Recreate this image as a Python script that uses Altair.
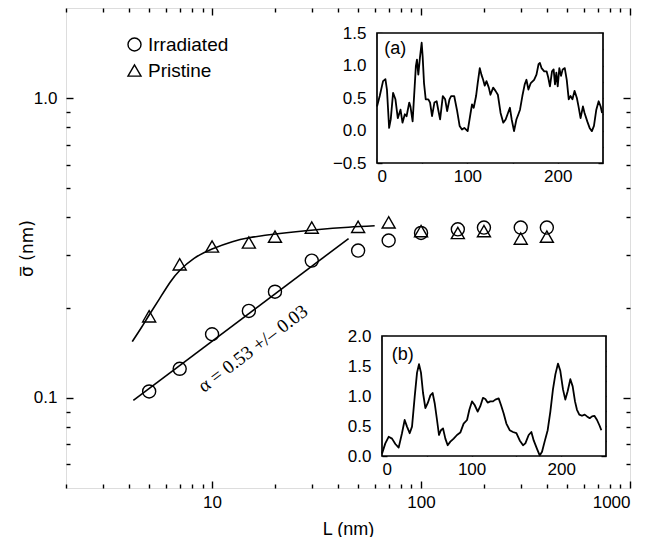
import altair as alt
import pandas as pd

# ---------------- data ----------------
L_nm = [5, 7, 10, 15, 20, 30, 50, 70, 100, 150, 200, 300, 400]
sigma_irradiated = [0.105, 0.125, 0.163, 0.195, 0.226, 0.287, 0.31, 0.335, 0.355, 0.365, 0.37, 0.37, 0.37]
sigma_pristine = [0.187, 0.279, 0.32, 0.33, 0.345, 0.37, 0.372, 0.385, 0.36, 0.355, 0.36, 0.34, 0.345]
series_names = ["Irradiated", "Pristine"]

fit_irr_L = [4.2, 45]
fit_irr_sigma = [0.098, 0.34]
fit_pri_L = [4.15, 4.6, 5, 5.6, 6.3, 7, 8.2, 10, 12.5, 15, 20.6, 31.5, 45, 60]
fit_pri_sigma = [0.154, 0.172, 0.189, 0.214, 0.243, 0.266, 0.292, 0.314, 0.332, 0.342, 0.353, 0.364, 0.371, 0.375]

alpha_label = "\u03b1 = 0.53 +/\u2013 0.03"
alpha_pos = (15.7, 0.146)

profile_a_x = [0, 3, 6.7, 9.3, 11, 13.4, 15.2, 17.8, 20.4, 23, 26, 28.2, 30.8, 32.7, 35.7, 37, 39.4, 43, 44.2,
               45.7, 47.5, 49.4, 50.5, 52, 53.9, 56.8, 58.7, 60.9, 63.5, 66, 68, 69.8, 72.8, 75.4, 77.6, 80.2,
               82, 85.4, 88.4, 91.4, 94, 96.6, 100.3, 103.3, 105.1, 107, 109.6, 111.4, 113.7, 115.5, 117.4,
               119.2, 121.1, 123.7, 125.5, 128.5, 131.1, 133.7, 136.7, 139.7, 142.3, 144.9, 147, 149, 151.6,
               154.2, 156.4, 158.2, 160.8, 163.4, 165.3, 167.5, 170.1, 173.8, 176.4, 178.7, 180.2, 182, 185,
               187.6, 189.5, 191.3, 193.6, 195.4, 196.9, 198.4, 199.9, 201.7, 203.6, 205.4, 207.7, 209.9,
               212.1, 214, 216.2, 218.5, 221.1, 222.9, 225.2, 227.8, 229.6, 232.6, 235.2, 237.7, 240, 242.6,
               245.2, 247.4, 249]
profile_a_h = [0.37, 0.53, 0.76, 0.79, 0.63, 0.04, 0.17, 0.58, 0.48, 0.19, 0.32, 0.12, 0.25, 0.22, 0.43, 0.37,
               0.14, 0.99, 1.09, 0.86, 1.12, 1.35, 1.14, 0.73, 0.48, 0.48, 0.43, 0.22, 0.43, 0.45, 0.30, 0.17,
               0.53, 0.48, 0.30, 0.48, 0.53, 0.53, 0.32, 0.07, 0.015, 0.04, -0.01, 0.25, 0.40, 0.35, 0.53, 0.73,
               0.96, 0.86, 0.78, 0.69, 0.76, 0.66, 0.55, 0.66, 0.61, 0.55, 0.27, 0.12, 0.17, 0.27, 0.35, 0.17,
               -0.01, 0.17, 0.25, 0.32, 0.53, 0.71, 0.78, 0.63, 0.73, 0.78, 0.86, 1.02, 1.04, 0.96, 0.91, 0.91,
               0.81, 0.68, 0.91, 0.94, 0.71, 0.89, 0.68, 0.96, 0.84, 0.94, 0.96, 0.78, 0.48, 0.53, 0.48, 0.61,
               0.50, 0.37, 0.19, 0.37, 0.27, 0.14, 0.04, -0.01, 0.07, 0.32, 0.45, 0.37, 0.27]

profile_b_x = [0, 3.7, 7.4, 11.2, 14.9, 18.6, 22.3, 25.3, 27.9, 30.9, 33.5, 36.5, 39.1, 41.3, 43.5, 45.8, 48.4,
               51, 54, 56.5, 58.8, 61.4, 63.6, 65.8, 68.1, 70.7, 73.3, 76.3, 80, 83.7, 87.4, 91.1, 94.9, 97.5,
               100.4, 103.4, 106.8, 109.7, 112.7, 115.3, 117.9, 120.9, 123.9, 126.5, 130.2, 132.8, 135.8,
               138.8, 142.5, 146.2, 150, 153.7, 157.4, 160, 163.7, 166.7, 169.3, 173, 176, 178.6, 181.5,
               184.9, 187.9, 190.8, 193.5, 196.4, 199, 202, 204.6, 207.2, 210.2, 212.8, 215.4, 217.6, 220.2,
               223.2, 226.2, 228.8, 231.8, 234.4, 237, 240, 243, 244.8]
profile_b_h = [0.04, 0.21, 0.32, 0.29, 0.20, 0.14, 0.38, 0.60, 0.49, 0.38, 0.49, 0.99, 1.39, 1.53, 1.39, 1.05,
               0.80, 0.88, 1.01, 1.05, 0.88, 0.60, 0.35, 0.43, 0.46, 0.29, 0.18, 0.24, 0.29, 0.35, 0.39, 0.54,
               0.60, 0.77, 0.91, 0.85, 0.74, 0.83, 0.97, 0.95, 0.89, 0.91, 0.91, 0.94, 0.96, 0.85, 0.71, 0.54,
               0.43, 0.40, 0.38, 0.26, 0.18, 0.21, 0.35, 0.40, 0.26, 0.12, 0.01, 0.07, 0.24, 0.43, 0.74, 1.11,
               1.36, 1.54, 1.42, 1.11, 0.94, 1.08, 1.28, 1.16, 0.91, 0.77, 0.69, 0.67, 0.69, 0.66, 0.63, 0.66,
               0.67, 0.60, 0.50, 0.43]

# axis / domain settings
x_domain = [2, 1000]
y_domain = [0.05, 2.0]
x_major = [10, 100, 1000]
x_minor = [2, 3, 4, 5, 6, 7, 8, 9, 20, 30, 40, 50, 60, 70, 80, 90, 200, 300, 400, 500, 600, 700, 800, 900]
y_major = [0.1, 1.0]
y_minor = [0.06, 0.07, 0.08, 0.09, 0.2, 0.3, 0.4, 0.5, 0.6, 0.7, 0.8, 0.9]

inset_x_domain = [0, 250]
inset_x_ticks = [0, 50, 100, 150, 200]
inset_a_y_domain = [-0.5, 1.5]
inset_a_y_ticks = [-0.5, -0.25, 0, 0.25, 0.5, 0.75, 1.0, 1.25, 1.5]
inset_b_y_domain = [0, 2.0]
inset_b_y_ticks = [0, 0.25, 0.5, 0.75, 1.0, 1.25, 1.5, 1.75, 2.0]

# ---------------- layout (pixels) ----------------
W, H = 564, 480
A_X = [311, 537]
A_Y = [155, 25]
B_X = [316, 540]
B_Y = [448, 328]
MAJ, MIN, INS = 7, 4, 5
FONT = "Liberation Sans"
LBL = 17


def axis(orient, offset, size, values, labels=False, **kw):
    d = dict(orient=orient, offset=offset, tickSize=size, values=values, labels=labels,
             domain=False, grid=False, tickColor="black", tickWidth=1.4, tickOpacity=1)
    if labels:
        d.update(labelFont=FONT, labelFontSize=LBL, labelColor="black")
    d.update(kw)
    if "title" not in d:
        d["title"] = None
    return alt.Axis(**d)


xs = alt.Scale(type="log", domain=x_domain, nice=False)
ys = alt.Scale(type="log", domain=y_domain, nice=False)

pts = pd.DataFrame({
    "L": L_nm * 2,
    "sigma": sigma_irradiated + sigma_pristine,
    "sample": [series_names[0]] * len(L_nm) + [series_names[1]] * len(L_nm),
})

points = alt.Chart(pts).mark_point(filled=False, size=170, strokeWidth=1.4, color="black", opacity=1).encode(
    x=alt.X("L:Q", scale=xs, axis=axis("bottom", -MAJ, MAJ, x_major, labels=True, format="d",
                                        labelPadding=6, title="L (nm)", titleFont=FONT, titleFontSize=18,
                                        titleFontWeight="normal", titleColor="black", titleY=48,
                                        titleBaseline="middle")),
    y=alt.Y("sigma:Q", scale=ys, axis=axis("left", -MAJ, MAJ, y_major, labels=True, format=".1f",
                                            labelPadding=9, title="\u03c3\u0305 (nm)", titleFont="DejaVu Sans",
                                            titleFontSize=17, titleFontWeight="normal", titleColor="black",
                                            titleX=-46, titleY=H / 2, titleAngle=270, titleAlign="center",
                                            titleBaseline="middle")),
    shape=alt.Shape("sample:N", scale=alt.Scale(domain=series_names, range=["circle", "triangle-up"]),
                    legend=alt.Legend(orient="none", legendX=59, legendY=27, title=None, padding=0,
                                      labelFont=FONT, labelFontSize=19, labelColor="black", labelOffset=4,
                                      symbolSize=170, symbolStrokeWidth=1.4, symbolStrokeColor="black",
                                      symbolFillColor="white", rowPadding=6)),
)

fit_irr = alt.Chart(pd.DataFrame({"L": fit_irr_L, "sigma": fit_irr_sigma})).mark_line(
    color="black", strokeWidth=1.6).encode(
    x=alt.X("L:Q", scale=xs, axis=axis("bottom", -MIN, MIN, x_minor)),
    y=alt.Y("sigma:Q", scale=ys, axis=axis("left", -MIN, MIN, y_minor)),
)

fit_pri = alt.Chart(pd.DataFrame({"L": fit_pri_L, "sigma": fit_pri_sigma})).mark_line(
    color="black", strokeWidth=1.6, interpolate="natural").encode(
    x=alt.X("L:Q", scale=xs, axis=axis("top", -MAJ, MAJ, x_major)),
    y=alt.Y("sigma:Q", scale=ys, axis=axis("right", -MAJ, MAJ, y_major)),
)

alpha_text = alt.Chart(pd.DataFrame({"L": [alpha_pos[0]], "sigma": [alpha_pos[1]], "t": [alpha_label]})).mark_text(
    angle=323, font="Liberation Serif", fontSize=19, color="black").encode(
    x=alt.X("L:Q", scale=xs, axis=axis("top", -MIN, MIN, x_minor)),
    y=alt.Y("sigma:Q", scale=ys, axis=axis("right", -MIN, MIN, y_minor)),
    text="t:N",
)


def inset(xr, yr, ydom, yticks, xvals, hvals, tag, tag_pos):
    sx = alt.Scale(domain=inset_x_domain, range=xr, nice=False, zero=False)
    sy = alt.Scale(domain=ydom, range=yr, nice=False, zero=False)
    frame = alt.Chart(pd.DataFrame({"x0": [inset_x_domain[0]], "x1": [inset_x_domain[1]],
                                    "y0": [ydom[0]], "y1": [ydom[1]]})).mark_rect(
        fill="white", stroke="black", strokeWidth=1.7).encode(
        x=alt.X("x0:Q", scale=sx, axis=axis("top", -(yr[1] + INS), INS, inset_x_ticks)),
        x2="x1:Q",
        y=alt.Y("y0:Q", scale=sy, axis=axis("right", xr[1] - INS - W, INS, yticks)),
        y2="y1:Q",
    )
    line = alt.Chart(pd.DataFrame({"t": xvals, "h": hvals})).mark_line(
        color="black", strokeWidth=1.8, strokeJoin="round").encode(
        x=alt.X("t:Q", scale=sx, axis=axis("bottom", yr[0] - INS - H, INS, inset_x_ticks, labels=True,
                                            labelPadding=5,
                                            labelExpr="datum.value % 100 == 0 ? datum.label : ''")),
        y=alt.Y("h:Q", scale=sy, axis=axis("left", -(xr[0] + INS), INS, yticks, labels=True,
                                            labelPadding=11,
                                            labelExpr="(datum.value * 2) % 1 == 0 ? format(datum.value, '.1f') : ''")),
    )
    label = alt.Chart(pd.DataFrame({"t": [tag_pos[0]], "h": [tag_pos[1]], "s": [tag]})).mark_text(
        align="left", baseline="middle", font=FONT, fontSize=18, color="black").encode(
        x=alt.X("t:Q", scale=sx, axis=None),
        y=alt.Y("h:Q", scale=sy, axis=None),
        text="s:N",
    )
    return [frame, line, label]


layers = [points, fit_irr, fit_pri, alpha_text]
layers += inset(A_X, A_Y, inset_a_y_domain, inset_a_y_ticks, profile_a_x, profile_a_h, "(a)", (8, 1.25))
layers += inset(B_X, B_Y, inset_b_y_domain, inset_b_y_ticks, profile_b_x, profile_b_h, "(b)", (11, 1.68))

chart = alt.layer(*layers).resolve_scale(x="independent", y="independent").properties(
    width=W, height=H,
    autosize=alt.AutoSizeParams(type="none"),
    padding={"left": 58, "top": 0, "right": 14, "bottom": 49},
).configure_view(stroke="black", strokeWidth=2).configure(background="white")

chart.save("out.html", embed_options={"renderer": "svg", "actions": False})
